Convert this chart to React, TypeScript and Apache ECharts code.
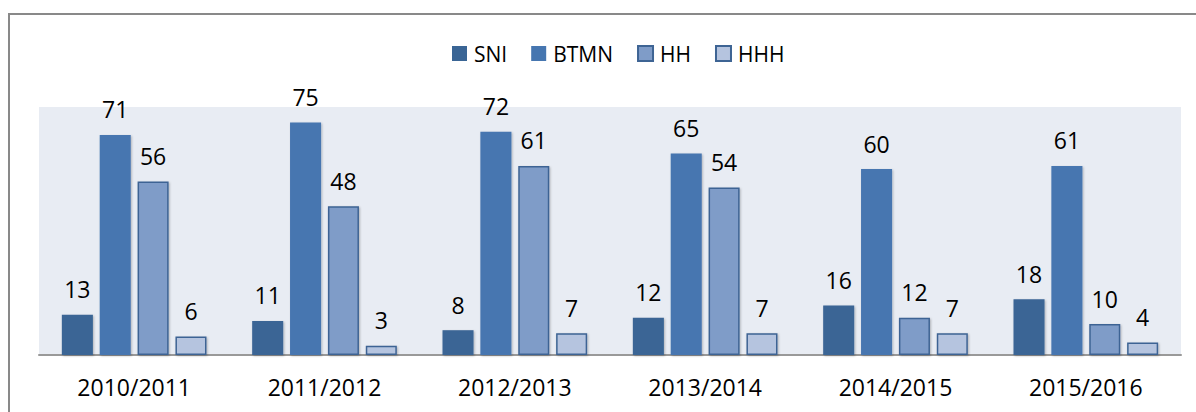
import React, { useEffect, useRef } from "react";
import * as echarts from "echarts";

const categories = ["2010/2011", "2011/2012", "2012/2013", "2013/2014", "2014/2015", "2015/2016"];
const seriesNames = ["SNI", "BTMN", "HH", "HHH"];
const sniValues = [13, 11, 8, 12, 16, 18];
const btmnValues = [71, 75, 72, 65, 60, 61];
const hhValues = [56, 48, 61, 54, 12, 10];
const hhhValues = [6, 3, 7, 7, 7, 4];
const fills = ["#3A6595", "#4676B0", "#7F9CC8", "#B5C4DF"];

export default function App() {
  const ref = useRef<HTMLDivElement>(null);
  useEffect(() => {
    if (!ref.current) return;
    const chart = echarts.init(ref.current, null, { renderer: "svg" });
    const font = "'Open Sans', 'Noto Sans', sans-serif";
    const values = [sniValues, btmnValues, hhValues, hhhValues];
    chart.setOption({
      animation: false,
      backgroundColor: "#ffffff",
      graphic: [
        {
          type: "rect",
          shape: { x: 9, y: 14, width: 1220, height: 440 },
          style: { fill: "none", stroke: "#898989", lineWidth: 2 },
          z: 100,
        },
      ],
      legend: {
        top: 38,
        left: 447,
        icon: "rect",
        itemWidth: 15,
        itemHeight: 15,
        itemGap: 24,
        textStyle: { fontFamily: font, fontSize: 21, color: "#000", padding: [0, 0, 0, 2] },
        data: seriesNames,
      },
      grid: {
        left: 39,
        right: 15,
        top: 107,
        bottom: 57,
        show: true,
        backgroundColor: "#E8ECF3",
        borderWidth: 0,
      },
      xAxis: {
        type: "category",
        data: categories,
        axisLine: { lineStyle: { color: "#999999", width: 2 } },
        axisTick: { show: false },
        axisLabel: { fontFamily: font, fontSize: 23, color: "#000", margin: 20 },
      },
      yAxis: {
        type: "value",
        min: 0,
        max: 80,
        show: false,
        splitLine: { show: false },
      },
      series: seriesNames.map((name, i) => ({
        name,
        type: "bar",
        data: values[i],
        barGap: "22%",
        barCategoryGap: "24%",
        itemStyle: {
          color: fills[i],
          borderColor: i < 2 ? fills[i] : "#3E6494",
          borderWidth: i < 2 ? 0 : 1.5,
          shadowColor: "rgba(0,0,0,0.25)",
          shadowBlur: 2,
          shadowOffsetX: 1,
          shadowOffsetY: 1,
        },
        label: {
          show: true,
          position: "top",
          distance: 14,
          fontFamily: font,
          fontSize: 23,
          color: "#000",
        },
      })),
    });
    return () => chart.dispose();
  }, []);
  return (
    <div
      ref={ref}
      style={{ position: "absolute", left: 0, top: 0, width: 1196, height: 412 }}
    />
  );
}
